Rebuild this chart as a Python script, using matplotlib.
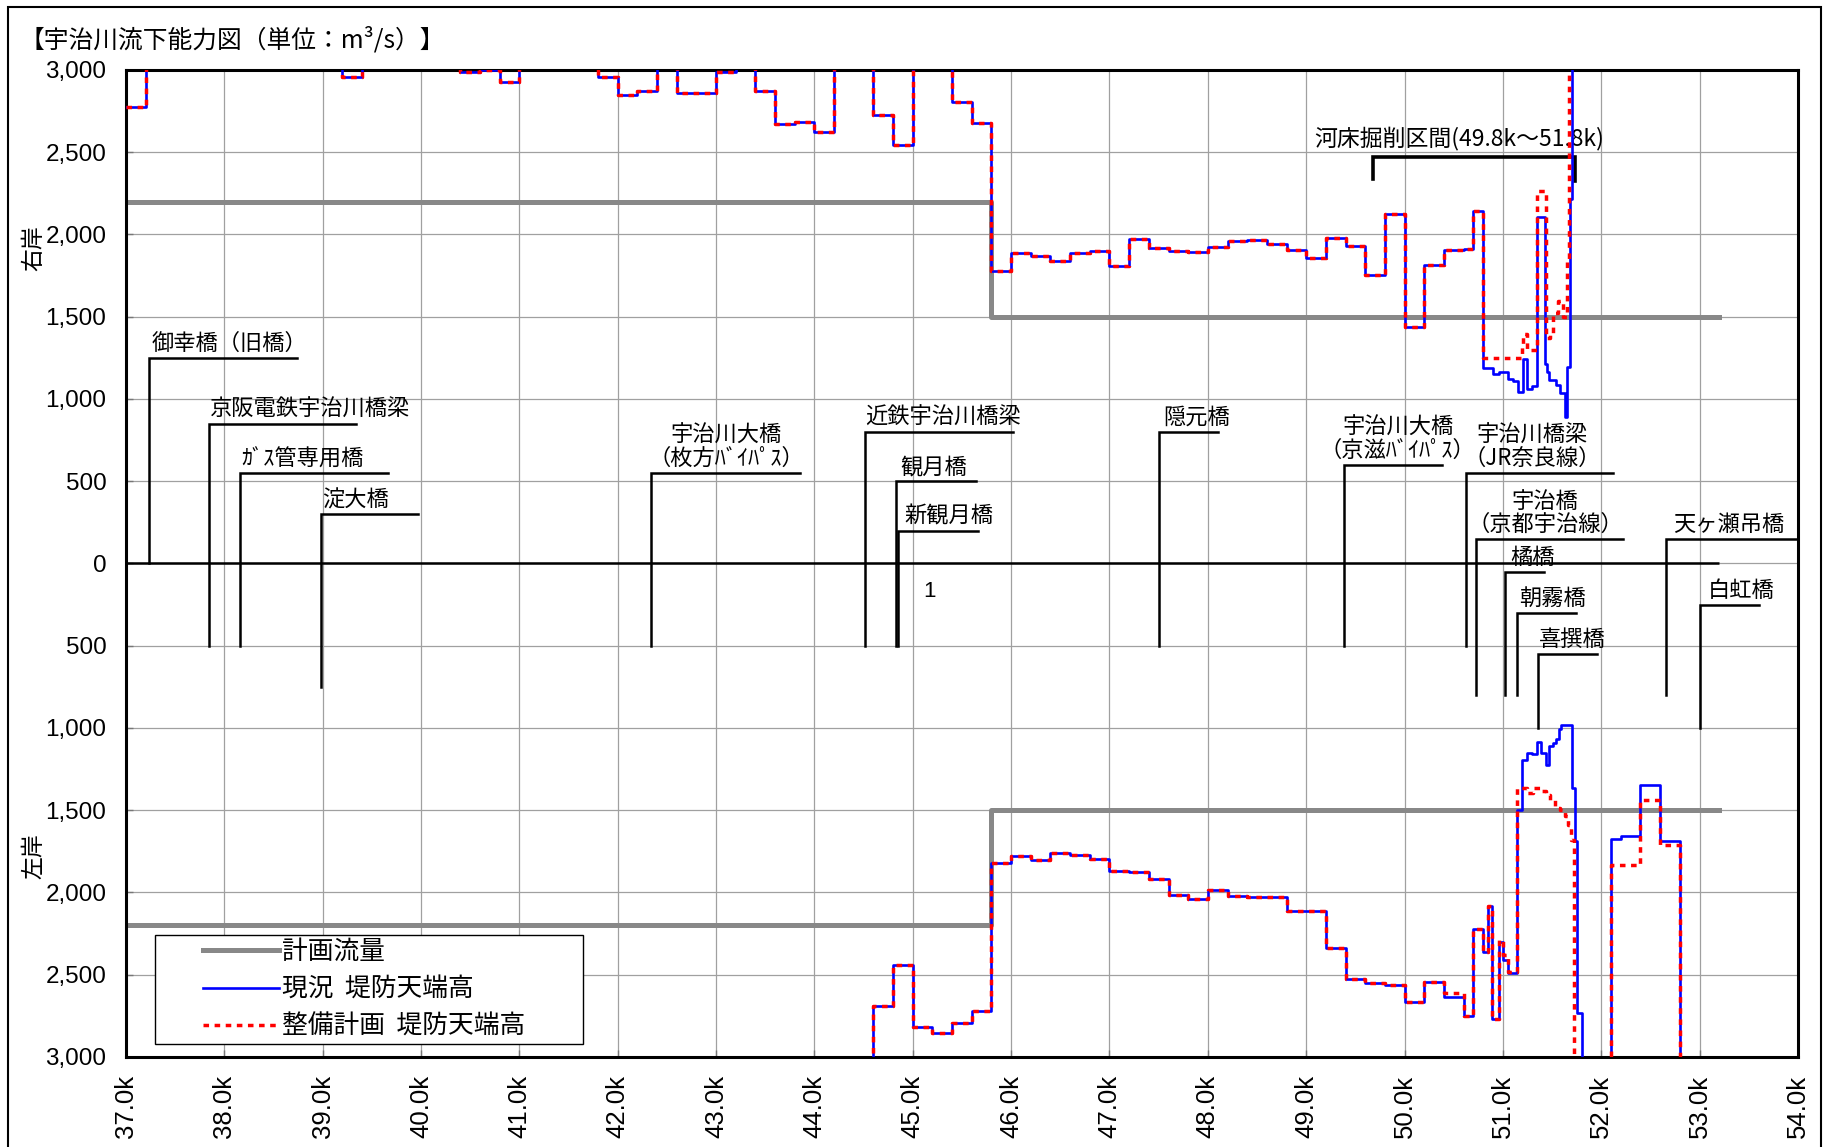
import numpy as np
import matplotlib.pyplot as plt
from matplotlib.lines import Line2D
from matplotlib.legend_handler import HandlerLine2D
from matplotlib.patches import Rectangle

plt.rcParams['font.family'] = ['Noto Sans CJK JP', 'DejaVu Sans']

# ---- data: distance (km) and flow capacity (m3/s); 3300 = off the chart ----
# right bank, identical for both levee cases up to 50.8k
rb_km = [37.0, 37.2, 39.2, 39.4, 40.4, 40.6, 40.8, 41.0, 41.8, 42.0, 42.2, 42.4,
         42.6, 43.0, 43.2, 43.4, 43.6, 43.8, 44.0, 44.2, 44.6, 44.8, 45.0, 45.4,
         45.6, 45.8, 46.0, 46.2, 46.4, 46.6, 46.8, 47.0, 47.2, 47.4, 47.6, 47.8,
         48.0, 48.2, 48.4, 48.6, 48.8, 49.0, 49.2, 49.4, 49.6, 49.8, 50.0, 50.2,
         50.4, 50.6, 50.7]
rb_q = [2775, 3300, 2960, 3300, 2990, 2997, 2925, 3300, 2955, 2850, 2870, 3300,
        2860, 2990, 3300, 2870, 2670, 2685, 2620, 3300, 2725, 2545, 3300, 2805,
        2675, 1775, 1890, 1870, 1840, 1890, 1900, 1810, 1972, 1918, 1902, 1894,
        1922, 1958, 1967, 1940, 1907, 1857, 1978, 1929, 1755, 2127, 1439, 1812,
        1904, 1910, 2145]
# right bank, 50.8k upstream
rb_now_km = [50.8, 50.9, 50.96, 51.05, 51.1, 51.15, 51.2, 51.245, 51.3, 51.345,
             51.43, 51.445, 51.47, 51.54, 51.58, 51.63, 51.655, 51.68, 51.7, 53.2]
rb_now_q = [1187, 1152, 1163, 1120, 1112, 1041, 1242, 1059, 1079, 2105,
            1215, 1165, 1116, 1085, 1034, 892, 1197, 2213, 3300, 3300]
rb_plan_km = [50.8, 51.19, 51.2, 51.245, 51.345, 51.44, 51.48, 51.51, 51.56,
              51.61, 51.65, 51.67, 53.2]
rb_plan_q = [1248, 1320, 1395, 1300, 2265, 1370, 1400, 1525, 1595,
             1500, 1850, 3300, 3300]

# left bank, identical for both levee cases up to 50.4k
lb_km = [37.0, 44.6, 44.8, 45.0, 45.2, 45.4, 45.6, 45.8, 46.0, 46.2, 46.4, 46.6,
         46.8, 47.0, 47.2, 47.4, 47.6, 47.8, 48.0, 48.2, 48.4, 48.6, 48.8, 49.2,
         49.4, 49.6, 49.8, 50.0, 50.2]
lb_q = [3300, 2690, 2441, 2816, 2857, 2796, 2721, 1822, 1778, 1802, 1762, 1774,
        1796, 1869, 1877, 1916, 2015, 2037, 1987, 2021, 2027, 2029, 2115, 2340,
        2529, 2549, 2563, 2667, 2543]
lb_now_km = [50.4, 50.6, 50.7, 50.8, 50.85, 50.89, 50.96, 51.0, 51.05, 51.146,
             51.197, 51.244, 51.298, 51.346, 51.39, 51.44, 51.468, 51.508, 51.54,
             51.566, 51.59, 51.705, 51.73, 51.75, 51.8, 52.095, 52.2, 52.39, 52.6,
             52.8, 53.2]
lb_now_q = [2635, 2752, 2225, 2360, 2080, 2771, 2300, 2411, 2488, 1497,
            1193, 1152, 1158, 1087, 1152, 1223, 1112, 1091, 1067,
            1006, 980, 1365, 1690, 2732, 3300, 1675, 1659, 1345, 1690,
            3300, 3300]
lb_plan_km = [50.4, 50.6, 50.7, 50.8, 50.85, 50.89, 50.96, 51.0, 51.05, 51.146,
              51.244, 51.305, 51.373, 51.44, 51.475, 51.525, 51.576, 51.627,
              51.66, 51.695, 51.72, 52.095, 52.39, 52.6, 52.8, 53.2]
lb_plan_q = [2614, 2752, 2225, 2360, 2080, 2771, 2290, 2380, 2482, 1365,
             1395, 1365, 1385, 1410, 1436, 1487, 1501, 1538,
             1588, 1680, 3300, 1832, 1436, 1710, 3300, 3300]

# planned flow (same both banks)
plan_km = [37.0, 45.8, 53.2]
plan_q = [2200, 1500, 1500]

# bridges: position, top / bottom of leader, end of the label shelf
bridge_names = ['御幸橋（旧橋）', '京阪電鉄宇治川橋梁', 'ｶﾞｽ管専用橋', '淀大橋',
                '宇治川大橋\n（枚方ﾊﾞｲﾊﾟｽ）', '近鉄宇治川橋梁', '観月橋', '新観月橋',
                '隠元橋', '宇治川大橋\n（京滋ﾊﾞｲﾊﾟｽ）', '宇治川橋梁\n（JR奈良線）',
                '宇治橋\n（京都宇治線）', '橘橋', '朝霧橋', '喜撰橋', '天ヶ瀬吊橋', '白虹橋']
bridge_km = [37.23, 37.84, 38.16, 38.98, 42.34, 44.51, 44.83, 44.85, 47.50,
             49.38, 50.62, 50.73, 51.02, 51.14, 51.36, 52.66, 53.00]
bridge_top = [1250, 850, 550, 300, 550, 800, 500, 200, 800,
              600, 550, 150, -50, -300, -550, 150, -250]
bridge_bottom = [0, -500, -500, -750, -500, -500, -500, -500, -500,
                 -500, -500, -800, -800, -800, -1000, -800, -1000]
bridge_end = [38.74, 39.34, 39.66, 39.97, 43.85, 46.02, 45.64, 45.66, 48.10,
              50.38, 52.12, 52.22, 51.42, 51.74, 51.96, 54.0, 53.6]
label_km = [37.26, 37.85, 38.17, 38.99, 43.10, 44.52, 44.87, 44.91, 47.55,
            49.93, 51.30, 51.43, 51.07, 51.16, 51.37, 52.73, 53.08]
label_ha = ['left', 'left', 'left', 'left', 'center', 'left', 'left', 'left', 'left',
            'center', 'center', 'center', 'left', 'left', 'left', 'left', 'left']

# river-bed excavation section
dredge_km = [49.68, 51.73]
dredge_top = 2470
dredge_foot = [2340, 2325]
dredge_label = '河床掘削区間(49.8k～51.8k)'

note_km, note_q, note_text = 45.17, -172, '1'

km_ticks = np.arange(37, 55)
q_ticks = np.arange(-3000, 3001, 500)


class OffsetLine(HandlerLine2D):
    # legend line drawn only over the right part of the handle box
    def create_artists(self, legend, orig_handle, xdescent, ydescent, width,
                       height, fontsize, trans):
        shift = 0.37 * width
        return super().create_artists(legend, orig_handle, xdescent - shift,
                                      ydescent, width - shift, height, fontsize, trans)


fig = plt.figure(figsize=(18.25, 11.47), dpi=100)
ax = fig.add_axes([0.0690, 0.0785, 0.9162, 0.8605])

ax.set_xlim(37, 54)
ax.set_ylim(-3000, 3000)
ax.set_xticks(km_ticks, labels=[f'{k:.1f}k' for k in km_ticks], rotation=90,
              fontsize=18.5, fontfamily='Liberation Sans')
ax.set_yticks(q_ticks, labels=[f'{abs(q):,}' for q in q_ticks],
              fontsize=17.5, fontfamily='Liberation Sans')
ax.tick_params(direction='in', length=5, width=1, color='#777777')
ax.tick_params(axis='y', pad=14)
ax.tick_params(axis='x', pad=13)
ax.grid(True, color='#a0a0a0', lw=0.9)
ax.set_axisbelow(True)
for sp in ax.spines.values():
    sp.set_linewidth(2.2)

# planned flow
h_plan, = ax.plot(plan_km, plan_q, drawstyle='steps-post', color='#888888',
                  lw=3.6, zorder=2, label='計画流量')
ax.plot(plan_km, -np.array(plan_q), drawstyle='steps-post', color='#888888',
        lw=3.6, zorder=2)

# centre line and bridges
ax.hlines(0, plan_km[0], plan_km[-1], color='black', lw=1.8, zorder=2.5)
for name, x, top, bot, end, lx, ha in zip(bridge_names, bridge_km, bridge_top,
                                          bridge_bottom, bridge_end, label_km, label_ha):
    ax.plot([x, x, end], [bot, top, top], color='black', lw=1.8, zorder=2.5,
            solid_joinstyle='miter')
    ax.annotate(name, (lx, top), xytext=(0, 2), textcoords='offset points',
                ha=ha, va='bottom', fontsize=16, linespacing=1.0)
ax.text(note_km, note_q, note_text, ha='center', va='center', fontsize=16,
        fontfamily='Liberation Sans')

# excavation bracket
ax.plot([dredge_km[0], dredge_km[0], dredge_km[1], dredge_km[1]],
        [dredge_foot[0], dredge_top, dredge_top, dredge_foot[1]],
        color='black', lw=2.6, zorder=2.5, solid_joinstyle='miter')
ax.annotate(dredge_label, (np.mean(dredge_km) - 0.15, dredge_top), xytext=(0, 5),
            textcoords='offset points', ha='center', va='bottom', fontsize=16.5)

# levee crown capacity: present and planned
now_style = dict(drawstyle='steps-post', color='#0000ff', lw=1.9, zorder=3)
plan_style = dict(drawstyle='steps-post', color='#ff0000', lw=2.5,
                  linestyle=(0, (1.6, 1.6)), zorder=4)
h_now, = ax.plot(rb_km + rb_now_km, rb_q + rb_now_q, label='現況  堤防天端高', **now_style)
h_pl, = ax.plot(rb_km + rb_plan_km, rb_q + rb_plan_q, label='整備計画  堤防天端高', **plan_style)
ax.plot(lb_km + lb_now_km, -np.array(lb_q + lb_now_q), **now_style)
ax.plot(lb_km + lb_plan_km, -np.array(lb_q + lb_plan_q), **plan_style)

leg = ax.legend(handles=[h_plan, h_now, h_pl], loc='lower left',
                bbox_to_anchor=(0.0173, 0.0132, 0.256, 0.107), mode='expand',
                borderaxespad=0, handlelength=4.7, handletextpad=0.1,
                borderpad=0.15, labelspacing=0.45, fontsize=18.5, fancybox=False,
                edgecolor='black', framealpha=1,
                handler_map={Line2D: OffsetLine()})
leg.get_frame().set_linewidth(1.0)
leg.set_zorder(6)

# title, bank labels, outer frame
fig.text(0.0105, 1 - 40.5 / 1147, '【宇治川流下能力図（単位：m³/s）】',
         ha='left', va='center', fontsize=17.8)
fig.text(34 / 1825, 1 - 248 / 1147, '右岸', rotation=90, ha='center', va='center', fontsize=16.5)
fig.text(34 / 1825, 1 - 856 / 1147, '左岸', rotation=90, ha='center', va='center', fontsize=16.5)
fig.add_artist(Rectangle((8 / 1825, -0.01), 1813 / 1825, 1.01 - 7 / 1147,
                         transform=fig.transFigure, fill=False, lw=1.5, ec='black'))

fig.savefig('out.png', dpi=100)
